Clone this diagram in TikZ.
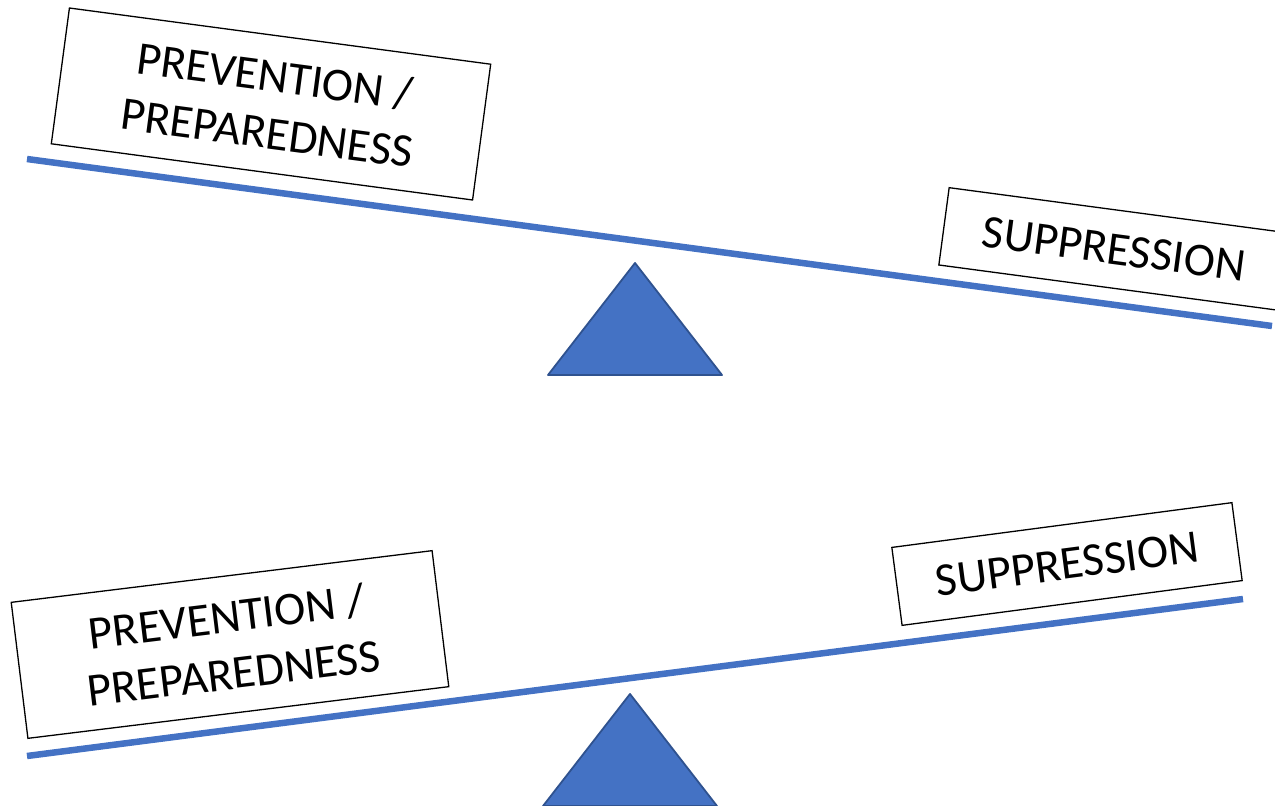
\documentclass[tikz,border=0pt]{standalone}
\usepackage{fontspec}
\setmainfont{Carlito}
\definecolor{beamblue}{HTML}{4472C4}
\definecolor{edgeblue}{HTML}{2F528F}
\begin{document}
\begin{tikzpicture}[x=1pt,y=-1pt,
  textbox/.style={draw=black, line width=1.3pt, fill=white, inner sep=0pt, align=center, font=\fontsize{47}{57}\selectfont},
  beamline/.style={draw=beamblue, line width=6.5pt},
  pivot/.style={fill=beamblue, draw=edgeblue, line width=1.8pt, line join=round}]
\useasboundingbox (0,0) rectangle (1275,806);
\clip (0,0) rectangle (1275,806);
% top seesaw
\coordinate (b1l) at (27,159);
\coordinate (b1r) at (1272,326);
\draw[beamline] (b1l) -- (b1r);
\coordinate (t1a) at (635,263);
\coordinate (t1l) at (548,375);
\coordinate (t1r) at (722,375);
\filldraw[pivot] (t1a) -- (t1l) -- (t1r) -- cycle;
\node[textbox, minimum width=425pt, minimum height=137pt, rotate=-7.6] (p1) at (271,104) {PREVENTION /\\PREPAREDNESS};
\node[textbox, minimum width=343pt, minimum height=78pt, rotate=-7.6] (s1) at (1114,249) {SUPPRESSION};
% bottom seesaw
\coordinate (b2l) at (27,756);
\coordinate (b2r) at (1243,599);
\draw[beamline] (b2l) -- (b2r);
\coordinate (t2a) at (630,694);
\coordinate (t2l) at (543,806);
\coordinate (t2r) at (717,806);
\filldraw[pivot] (t2a) -- (t2l) -- (t2r) -- cycle;
\node[textbox, minimum width=424pt, minimum height=137pt, rotate=7.0] (p2) at (230,644.5) {PREVENTION /\\PREPAREDNESS};
\node[textbox, minimum width=343pt, minimum height=78.6pt, rotate=7.5] (s2) at (1067,564) {SUPPRESSION};
\end{tikzpicture}
\end{document}
